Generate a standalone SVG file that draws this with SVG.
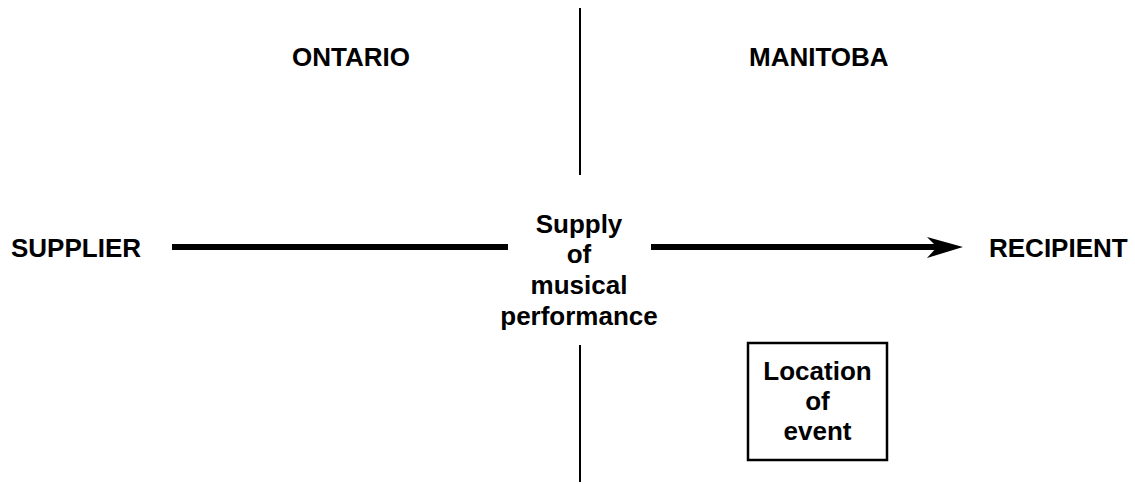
<svg xmlns="http://www.w3.org/2000/svg" width="1135" height="484" viewBox="0 0 1135 484">
  <style>
    .lbl { font-family: "Liberation Sans", Arial, sans-serif; font-weight: bold; font-size: 26px; fill: #000; }
    .mid { text-anchor: middle; }
    .border { stroke: #000; stroke-width: 2; fill: none; }
    .flow { stroke: #000; stroke-width: 6; fill: none; }
  </style>
  <rect width="1135" height="484" fill="#fff"/>

  <!-- provincial border -->
  <g id="border">
    <line class="border" x1="580" y1="8" x2="580" y2="175"/>
    <line class="border" x1="580" y1="345" x2="580" y2="482"/>
  </g>

  <g id="ontario"><text class="lbl" x="292" y="66">ONTARIO</text></g>
  <g id="manitoba"><text class="lbl" x="749" y="66">MANITOBA</text></g>

  <g id="supplier"><text class="lbl" x="11" y="257">SUPPLIER</text></g>
  <g id="recipient"><text class="lbl" x="989" y="257">RECIPIENT</text></g>

  <g id="supply">
    <text class="lbl mid" x="579" y="233">Supply</text>
    <text class="lbl mid" x="579" y="263">of</text>
    <text class="lbl mid" x="579" y="294">musical</text>
    <text class="lbl mid" x="579" y="325">performance</text>
  </g>

  <g id="location">
    <rect x="748" y="343" width="139" height="117" fill="#fff" stroke="#000" stroke-width="2.5"/>
    <text class="lbl mid" x="817.5" y="380">Location</text>
    <text class="lbl mid" x="817.5" y="410">of</text>
    <text class="lbl mid" x="817.5" y="440">event</text>
  </g>

  <!-- supply flow -->
  <g id="connectors">
    <line class="flow" x1="172" y1="247" x2="508" y2="247"/>
    <line class="flow" x1="651" y1="247" x2="940" y2="247"/>
    <path d="M963,247 L927,237 L937,247 L927,258 Z" fill="#000"/>
  </g>
</svg>
